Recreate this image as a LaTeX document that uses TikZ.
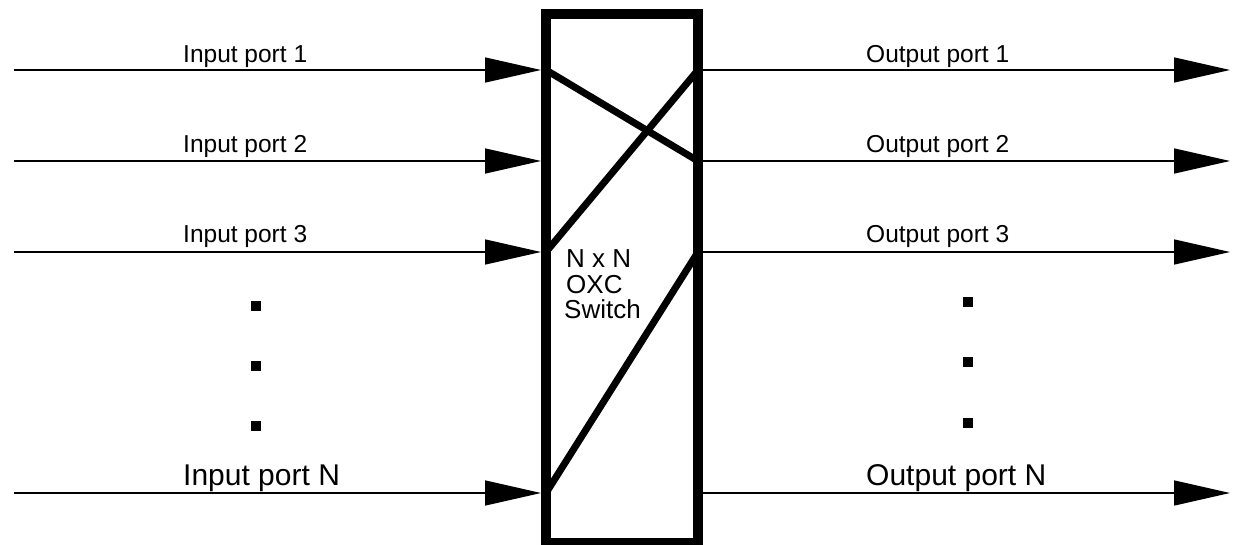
\documentclass[tikz,border=0pt]{standalone}
\usepackage{fontspec}
\setmainfont{Liberation Sans}
\usetikzlibrary{arrows.meta}
\begin{document}
\begin{tikzpicture}[x=1pt,y=-1pt,
  port/.style={line width=1.5pt, -{Triangle[length=56pt,width=25pt]}},
  cross/.style={line width=7pt},
  lbl/.style={anchor=base west, inner sep=0pt, font=\fontsize{24.5}{29}\selectfont},
  biglbl/.style={anchor=base west, inner sep=0pt, font=\fontsize{30}{36}\selectfont},
  swtxt/.style={anchor=base west, inner sep=0pt, font=\fontsize{26}{26}\selectfont},
  sqdot/.style={fill=black, minimum size=10pt, inner sep=0pt}
]
\useasboundingbox (0,0) rectangle (1233,545);
% port line ends
\coordinate (i1) at (14,70);
\coordinate (i2) at (14,161);
\coordinate (i3) at (14,252);
\coordinate (iN) at (14,493);
\coordinate (o1) at (1230,70);
\coordinate (o2) at (1230,161);
\coordinate (o3) at (1230,252);
\coordinate (oN) at (1230,493);
% inner switch points (on border centre line)
\coordinate (a1) at (546,70);
\coordinate (a3) at (546,252);
\coordinate (aN) at (546,493);
\coordinate (b1) at (698,70);
\coordinate (b2) at (698,161);
\coordinate (b3) at (698,252);
% cross connections
\draw[cross] (a1) -- (b2);
\draw[cross] (a3) -- (b1);
\draw[cross] (aN) -- (b3);
% switch box (border centre line from 546,14 to 698,543)
\node[draw, line width=10pt, minimum width=152pt, minimum height=529pt,
      inner sep=0pt, anchor=north west] (sw) at (541,9) {};
% input ports
\draw[port] (i1) -- (sw.west |- i1);
\draw[port] (i2) -- (sw.west |- i2);
\draw[port] (i3) -- (sw.west |- i3);
\draw[port] (iN) -- (sw.west |- iN);
% output ports
\draw[port] (sw.east |- o1) -- (o1);
\draw[port] (sw.east |- o2) -- (o2);
\draw[port] (sw.east |- o3) -- (o3);
\draw[port] (sw.east |- oN) -- (oN);
% labels
\node[lbl] (li1) at (183,63) {Input port 1};
\node[lbl] (li2) at (183,153) {Input port 2};
\node[lbl] (li3) at (183,243) {Input port 3};
\node[biglbl] (liN) at (183,485) {Input port N};
\node[lbl] (lo1) at (866,63) {Output port 1};
\node[lbl] (lo2) at (866,153) {Output port 2};
\node[lbl] (lo3) at (866,243) {Output port 3};
\node[biglbl] (loN) at (866,485) {Output port N};
% switch text
\node[swtxt] (s1) at (566,267) {N x N};
\node[swtxt] (s2) at (566,293) {OXC};
\node[swtxt] (s3) at (564,318.5) {Switch};
% dots
\node[sqdot] (dl1) at (256,306) {};
\node[sqdot] (dl2) at (256,366) {};
\node[sqdot] (dl3) at (256,426) {};
\node[sqdot] (dr1) at (968,302) {};
\node[sqdot] (dr2) at (968,362) {};
\node[sqdot] (dr3) at (968,423) {};
\end{tikzpicture}
\end{document}
